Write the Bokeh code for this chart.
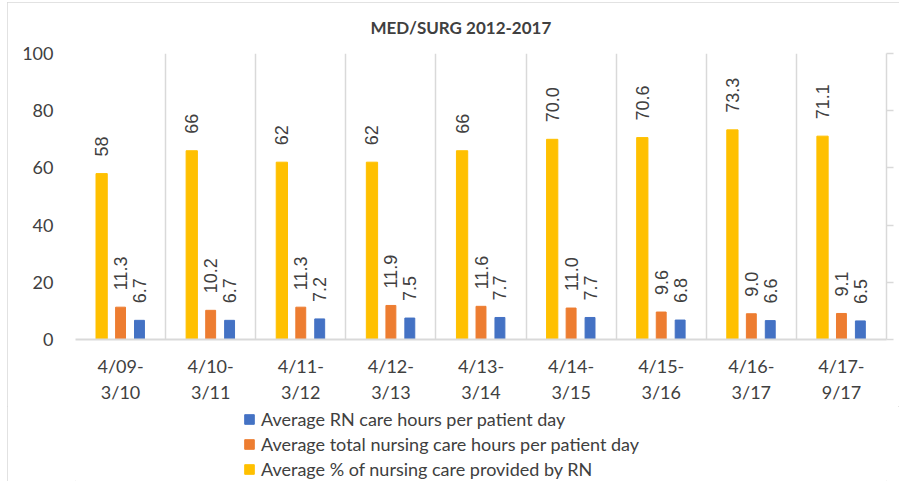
import numpy as np
from bokeh.plotting import figure
from bokeh.layouts import column
from bokeh.models import (ColumnDataSource, FactorRange, Range1d, LinearAxis,
                          FixedTicker, Legend, LegendItem)
from bokeh.transform import dodge
from bokeh.core.properties import value
from bokeh.embed import file_html
from bokeh.resources import INLINE

categories = ["4/09-\n3/10", "4/10-\n3/11", "4/11-\n3/12", "4/12-\n3/13", "4/13-\n3/14",
              "4/14-\n3/15", "4/15-\n3/16", "4/16-\n3/17", "4/17-\n9/17"]
pct_rn = [58, 66, 62, 62, 66, 70.0, 70.6, 73.3, 71.1]
pct_rn_labels = ["58", "66", "62", "62", "66", "70.0", "70.6", "73.3", "71.1"]
total_hours = [11.3, 10.2, 11.3, 11.9, 11.6, 11.0, 9.6, 9.0, 9.1]
total_hours_labels = ["11.3", "10.2", "11.3", "11.9", "11.6", "11.0", "9.6", "9.0", "9.1"]
rn_hours = [6.7, 6.7, 7.2, 7.5, 7.7, 7.7, 6.8, 6.6, 6.5]
rn_hours_labels = ["6.7", "6.7", "7.2", "7.5", "7.7", "7.7", "6.8", "6.6", "6.5"]
series_names = ["Average RN care hours per patient day",
                "Average total nursing care hours per patient day",
                "Average % of nursing care provided by RN"]
y_ticks = [0, 20, 40, 60, 80, 100]

src = ColumnDataSource(dict(cat=categories, pct=pct_rn, pct_lbl=pct_rn_labels,
                            tot=total_hours, tot_lbl=total_hours_labels,
                            rn=rn_hours, rn_lbl=rn_hours_labels))

TXT = "#404040"
GRID = "#d9d9d9"
colors = ["#FFC000", "#ED7D31", "#4472C4"]

p = figure(x_range=FactorRange(*categories), y_range=Range1d(0, 100),
           width=892, height=404, output_backend="svg", toolbar_location=None,
           min_border_left=68, min_border_right=13, min_border_top=50, min_border_bottom=67,
           background_fill_color="white", border_fill_color="white")
p.outline_line_color = None

p.title.text = "MED/SURG 2012-2017"
p.title.text_font = "Lato"
p.title.text_font_size = "17px"
p.title.text_font_style = "bold"
p.title.text_color = TXT
p.title.align = "left"
p.title.vertical_align = "top"
p.title.standoff = 10
p.title.offset = 286
try:
    p.title.padding = 9
except Exception:
    p.title.offset = 295

offs = [-0.21, 0.0, 0.21]
r_pct = p.vbar(x=dodge("cat", offs[0], range=p.x_range), top="pct", width=0.125,
               color=colors[0], source=src)
r_tot = p.vbar(x=dodge("cat", offs[1], range=p.x_range), top="tot", width=0.11,
               color=colors[1], source=src)
r_rn = p.vbar(x=dodge("cat", offs[2], range=p.x_range), top="rn", width=0.11,
              color=colors[2], source=src)

for off, col, lbl in zip(offs, ["pct", "tot", "rn"], ["pct_lbl", "tot_lbl", "rn_lbl"]):
    p.text(x=dodge("cat", off, range=p.x_range), y=col, text=lbl, angle=np.pi / 2,
           text_align="left", text_baseline="middle", y_offset=-17,
           text_font=value("Liberation Sans"), text_font_size="18px",
           text_color=TXT, source=src)

p.ygrid.visible = False
p.xgrid.ticker = FixedTicker(ticks=list(range(10)))
p.xgrid.grid_line_color = GRID
p.xgrid.grid_line_width = 1.5

xa = p.xaxis[0]
xa.axis_line_color = GRID
xa.axis_line_width = 2
xa.major_tick_line_color = None
xa.major_tick_out = 0
xa.major_tick_in = 0
xa.minor_tick_line_color = None
xa.major_label_text_font = "Lato"
xa.major_label_text_font_size = "18px"
xa.major_label_text_color = TXT
xa.major_label_standoff = 15

ya = p.yaxis[0]
ya.ticker = FixedTicker(ticks=y_ticks)
ya.axis_line_color = None
ya.major_tick_line_color = None
ya.major_tick_out = 0
ya.major_tick_in = 0
ya.minor_tick_line_color = None
ya.major_label_text_font = "Lato"
ya.major_label_text_font_size = "18px"
ya.major_label_text_color = TXT
ya.major_label_standoff = 22

ra = LinearAxis(ticker=FixedTicker(ticks=y_ticks))
ra.axis_line_color = GRID
ra.axis_line_width = 1.5
ra.major_tick_line_color = GRID
ra.major_tick_line_width = 1.5
ra.major_tick_out = 7
ra.major_tick_in = 0
ra.minor_tick_line_color = None
ra.major_label_text_font_size = "0px"
ra.major_label_standoff = 0
p.add_layout(ra, "right")

# legend panel below the chart (its renderers are hidden; only the legend shows)
p2 = figure(width=892, height=75, output_backend="svg", toolbar_location=None,
            x_range=FactorRange(*categories), y_range=Range1d(0, 100),
            x_axis_type=None, y_axis_type=None,
            min_border_left=0, min_border_right=0, min_border_top=0, min_border_bottom=0,
            background_fill_color="white", border_fill_color="white")
p2.outline_line_color = None
p2.xgrid.visible = False
p2.ygrid.visible = False
lg_rn = p2.vbar(x="cat", top="rn", width=0.1, color=colors[2], source=src, visible=False)
lg_tot = p2.vbar(x="cat", top="tot", width=0.1, color=colors[1], source=src, visible=False)
lg_pct = p2.vbar(x="cat", top="pct", width=0.1, color=colors[0], source=src, visible=False)

legend = Legend(items=[LegendItem(label=series_names[0], renderers=[lg_rn]),
                       LegendItem(label=series_names[1], renderers=[lg_tot]),
                       LegendItem(label=series_names[2], renderers=[lg_pct])],
                orientation="vertical", location=(168, 0),
                border_line_color=None, background_fill_alpha=0,
                inactive_fill_alpha=0,
                glyph_width=12, glyph_height=12, label_height=25,
                label_text_font="Lato", label_text_font_size="18px",
                label_text_color=TXT, spacing=0, padding=0, margin=0, label_standoff=6)
p2.add_layout(legend, "center")

layout = column(p, p2, spacing=0)
layout.styles = {"outline": "1px solid #d9d9d9", "outline-offset": "-1px",
                 "margin-left": "7px", "margin-top": "2px"}

open("out.html", "w").write(file_html(layout, INLINE))
